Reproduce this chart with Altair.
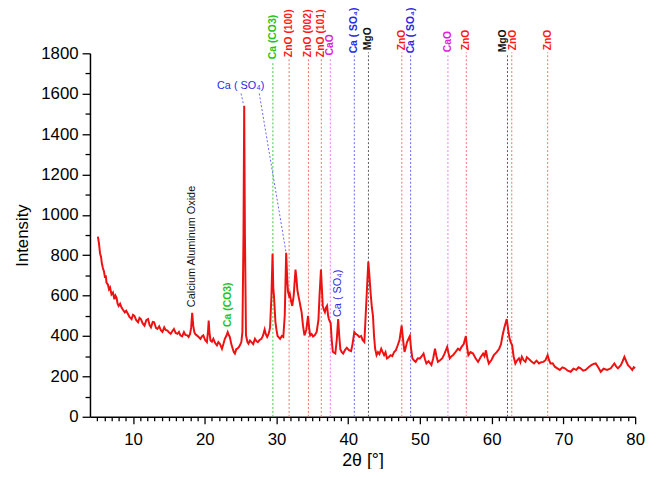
import altair as alt
import pandas as pd

# ---- XRD pattern ----
two_theta = [
    5.1, 5.25, 5.4, 5.55, 5.65, 5.8, 5.95, 6.1, 6.2, 6.3,
    6.5, 6.65, 6.8, 7.0, 7.2, 7.4, 7.55, 7.7, 7.85, 8.0,
    8.2, 8.4, 8.6, 8.85, 9.05, 9.3, 9.5, 9.8, 10.0, 10.2,
    10.45, 10.7, 10.9, 11.1, 11.35, 11.6, 11.85, 12.1, 12.3, 12.5,
    12.75, 12.95, 13.2, 13.4, 13.65, 13.9, 14.1, 14.35, 14.55, 14.8,
    15.0, 15.25, 15.5, 15.7, 15.95, 16.2, 16.4, 16.6, 16.85, 17.1,
    17.3, 17.55, 17.75, 17.95, 18.1, 18.25, 18.4, 18.55, 18.7, 18.9,
    19.15, 19.4, 19.6, 19.8, 20.05, 20.3, 20.45, 20.55, 20.65, 20.8,
    21.0, 21.2, 21.45, 21.7, 21.9, 22.1, 22.25, 22.4, 22.6, 22.8,
    23.0, 23.2, 23.35, 23.5, 23.7, 23.9, 24.05, 24.2, 24.4, 24.55,
    24.75, 24.9, 25.1, 25.25, 25.4, 25.5, 25.6, 25.75, 25.95, 26.1,
    26.3, 26.5, 26.75, 27.0, 27.2, 27.4, 27.65, 27.9, 28.1, 28.35,
    28.5, 28.7, 28.9, 29.1, 29.3, 29.45, 29.55, 29.65, 29.85, 30.0,
    30.15, 30.35, 30.5, 30.75, 30.95, 31.15, 31.35, 31.5, 31.6, 31.75,
    31.85, 32.05, 32.2, 32.4, 32.65, 32.8, 32.9, 33.05, 33.2, 33.35,
    33.5, 33.7, 33.9, 34.15, 34.4, 34.55, 34.7, 34.9, 35.1, 35.35,
    35.6, 35.85, 36.0, 36.2, 36.35, 36.45, 36.6, 36.75, 36.9, 37.05,
    37.2, 37.3, 37.45, 37.55, 37.7, 37.85, 38.0, 38.2, 38.4, 38.6,
    38.75, 38.9, 39.1, 39.3, 39.55, 39.8, 40.1, 40.4, 40.6, 40.85,
    41.05, 41.3, 41.55, 41.8, 42.0, 42.25, 42.5, 42.8, 42.95, 43.15,
    43.3, 43.45, 43.6, 43.75, 43.95, 44.15, 44.35, 44.6, 44.8, 45.0,
    45.2, 45.4, 45.65, 45.9, 46.15, 46.4, 46.65, 46.9, 47.15, 47.45,
    47.65, 47.85, 48.0, 48.2, 48.4, 48.6, 48.75, 48.95, 49.15, 49.4,
    49.7, 50.0, 50.25, 50.5, 50.7, 50.9, 51.2, 51.6, 51.85, 52.1,
    52.3, 52.5, 52.8, 53.1, 53.4, 53.8, 53.95, 54.15, 54.4, 54.6,
    54.95, 55.3, 55.55, 55.8, 56.1, 56.4, 56.55, 56.75, 57.05, 57.4,
    57.75, 58.1, 58.45, 58.8, 59.0, 59.2, 59.4, 59.6, 59.95, 60.3,
    60.7, 61.05, 61.3, 61.5, 61.75, 62.1, 62.3, 62.5, 62.65, 62.85,
    63.05, 63.3, 63.55, 63.8, 64.0, 64.2, 64.45, 64.7, 64.9, 65.1,
    65.5, 65.9, 66.25, 66.6, 66.9, 67.2, 67.5, 67.8, 68.0, 68.2,
    68.5, 68.8, 69.15, 69.5, 69.85, 70.2, 70.6, 71.0, 71.4, 71.8,
    72.1, 72.4, 72.75, 73.1, 73.5, 73.9, 74.2, 74.5, 74.85, 75.2,
    75.6, 76.1, 76.6, 77.1, 77.35, 77.6, 78.0, 78.25, 78.5, 78.75,
    79.0, 79.3, 79.6, 79.8, 80.0,
]
intensity = [
    892, 860, 810, 790, 761, 737, 720, 688, 700, 664,
    655, 631, 640, 606, 615, 582, 600, 590, 560, 549,
    560, 541, 530, 517, 525, 509, 495, 484, 505, 500,
    478, 468, 490, 484, 462, 451, 478, 484, 455, 443,
    470, 468, 440, 435, 448, 427, 420, 443, 430, 427,
    418, 411, 425, 435, 415, 411, 420, 403, 398, 419,
    405, 403, 395, 410, 440, 515, 450, 419, 408, 403,
    395, 386, 398, 403, 380, 370, 420, 476, 420, 378,
    372, 386, 365, 354, 370, 362, 350, 337, 360, 386,
    400, 419, 405, 395, 360, 337, 320, 313, 335, 337,
    345, 354, 370, 419, 900, 1540, 900, 403, 370, 362,
    378, 370, 360, 386, 375, 370, 380, 386, 400, 432,
    410, 395, 410, 440, 600, 807, 640, 598, 470, 430,
    400, 392, 386, 400, 395, 500, 812, 680, 620, 600,
    610, 570, 549, 600, 729, 680, 631, 600, 574, 545,
    518, 450, 403, 430, 500, 440, 403, 410, 398, 405,
    420, 480, 600, 729, 620, 549, 530, 518, 540, 549,
    500, 484, 470, 465, 380, 322, 318, 313, 380, 484,
    400, 335, 320, 313, 330, 342, 330, 325, 360, 420,
    410, 405, 395, 400, 380, 370, 550, 769, 700, 600,
    540, 500, 400, 337, 305, 320, 310, 337, 320, 305,
    320, 289, 295, 305, 300, 321, 330, 354, 380, 452,
    380, 321, 340, 370, 385, 400, 340, 289, 280, 272,
    290, 289, 300, 313, 285, 264, 275, 256, 290, 337,
    300, 272, 280, 289, 310, 346, 320, 289, 300, 305,
    320, 337, 330, 346, 360, 400, 350, 305, 320, 313,
    290, 272, 295, 313, 300, 329, 290, 264, 280, 305,
    320, 337, 360, 400, 440, 484, 430, 386, 370, 354,
    300, 264, 280, 289, 270, 297, 280, 272, 295, 289,
    275, 264, 278, 264, 270, 272, 280, 305, 280, 264,
    265, 248, 240, 232, 245, 240, 228, 223, 238, 232,
    245, 240, 228, 232, 245, 256, 262, 264, 245, 223,
    238, 232, 240, 264, 250, 240, 255, 275, 297, 275,
    256, 245, 232, 245, 240,
]

# ---- reference (phase) lines at the top ----
ref_pos = [29.5, 31.76, 34.45, 36.25, 37.5, 40.85, 42.82, 47.47, 48.7, 53.9, 56.46, 62.2, 62.8, 67.8]
ref_text_pos = [29.5, 31.76, 34.45, 36.25, 37.5, 40.85, 42.82, 47.47, 48.7, 53.9, 56.46, 61.6, 63.0, 67.8]
ref_label = ["Ca (CO3)", "ZnO (100)", "ZnO (002)", "ZnO (101)", "CaO", "Ca ( SO\u2084)", "MgO",
             "ZnO", "Ca ( SO\u2084)", "CaO", "ZnO", "MgO", "ZnO", "ZnO"]
ref_phase = ["CaCO3", "ZnO", "ZnO", "ZnO", "CaO", "CaSO4", "MgO",
             "ZnO", "CaSO4", "CaO", "ZnO", "MgO", "ZnO", "ZnO"]
ref_top = [1761, 1771, 1771, 1771, 1780, 1790, 1805, 1805, 1790, 1795, 1805, 1795, 1805, 1805]

# ---- in-plot annotations ----
ann_x = [18.25, 23.3, 38.6]
ann_y = [543, 445, 494]
ann_text = ["Calcium Aluminum Oxide", "Ca (CO3)", "Ca ( SO\u2084)"]
ann_phase = ["Other", "CaCO3", "CaSO4"]
ann_bold = [False, True, False]

lead_x = [25.06, 27.6]
lead_y = [1601, 1601]
lead_x2 = [25.4, 31.35]
lead_y2 = [1547, 810]
sulf_x = [25.0]
sulf_y = [1638]
sulf_text = ["Ca ( SO\u2084)"]

phases = ["ZnO", "CaCO3", "CaSO4", "CaO", "MgO", "Other"]
line_cols = ["#ff6a6a", "#3cc83c", "#6464ff", "#ee77ee", "#555555", "#000000"]
text_cols = ["#ff1a1a", "#22c422", "#2a2ae0", "#dd22dd", "#111111", "#111111"]

FONT = "Liberation Sans"
xs = alt.Scale(domain=[4, 80], nice=False, zero=False)
ys = alt.Scale(domain=[0, 1800], nice=False, zero=True)

spec = pd.DataFrame({"x": two_theta, "y": intensity})
refs = pd.DataFrame({"x": ref_pos, "tx": ref_text_pos, "label": ref_label, "phase": ref_phase,
                     "top": ref_top, "zero": [0] * len(ref_pos)})
anns = pd.DataFrame({"x": ann_x, "y": ann_y, "label": ann_text, "phase": ann_phase,
                     "bold": ann_bold})
leads = pd.DataFrame({"x": lead_x, "y": lead_y, "x2": lead_x2, "y2": lead_y2})
sulf = pd.DataFrame({"x": sulf_x, "y": sulf_y, "label": sulf_text})

x_axis = alt.Axis(
    values=list(range(5, 81)),
    labelExpr="datum.value % 10 === 0 ? datum.label : ''",
    format="d",
    tickSize={"condition": {"test": "datum.value % 10 === 0", "value": 7}, "value": 4},
    labelOverlap=False, labelFlush=False, grid=False,
    title="2\u03b8 [\u00b0]", titleFontSize=18, titlePadding=4, labelPadding=8,
)
y_axis = alt.Axis(
    values=list(range(0, 1801, 100)),
    labelExpr="datum.value % 200 === 0 ? datum.label : ''",
    format="d",
    tickSize={"condition": {"test": "datum.value % 200 === 0", "value": 8}, "value": 5},
    labelOverlap=False, labelFlush=False, grid=False,
    title="Intensity", titleFontSize=17, titlePadding=9, labelPadding=4,
)


def X(field):
    return alt.X(field, type="quantitative", scale=xs, axis=x_axis)


def Y(field):
    return alt.Y(field, type="quantitative", scale=ys, axis=y_axis)


line = alt.Chart(spec).mark_line(color="#ee1111", strokeWidth=2).encode(
    x=X("x"), y=Y("y"),
)

stroke_scale = alt.Scale(domain=phases, range=line_cols)
fill_scale = alt.Scale(domain=phases, range=text_cols)

ref_rules = alt.Chart(refs).mark_rule(strokeDash=[2, 2], strokeWidth=1).encode(
    x=X("x"), y=Y("zero"), y2="top:Q",
    stroke=alt.Stroke("phase:N", scale=stroke_scale, legend=None),
)

ref_text = alt.Chart(refs).mark_text(
    angle=270, align="left", baseline="middle", dx=2,
    font=FONT, fontSize=10.5, fontWeight="bold",
).encode(
    x=X("tx"), y=Y("top"),
    text="label:N",
    fill=alt.Fill("phase:N", scale=fill_scale, legend=None),
)


def ann_layer(bold):
    return alt.Chart(anns).transform_filter(
        "datum.bold" if bold else "!datum.bold"
    ).mark_text(
        angle=270, align="left", baseline="middle", font=FONT,
        fontSize=10.5 if bold else 11,
        fontWeight="bold" if bold else "normal",
    ).encode(
        x=X("x"), y=Y("y"),
        text="label:N",
        fill=alt.Fill("phase:N", scale=fill_scale, legend=None),
    )


lead_rules = alt.Chart(leads).mark_rule(strokeDash=[2, 2], strokeWidth=1, color="#6464ff").encode(
    x=X("x"), y=Y("y"), x2="x2:Q", y2="y2:Q",
)

sulf_text_layer = alt.Chart(sulf).mark_text(
    align="center", baseline="middle", font=FONT, fontSize=11, color="#2a2ae0",
).encode(
    x=X("x"), y=Y("y"), text="label:N",
)

chart = alt.layer(
    ref_rules, lead_rules, line, ref_text, ann_layer(False), ann_layer(True), sulf_text_layer
).properties(
    width=552, height=368,
    padding={"left": 83, "top": 43, "right": 13, "bottom": 50},
    autosize=alt.AutoSizeParams(type="none"),
    background="white",
).configure_view(
    stroke=None
).configure_axis(
    domainColor="black", domainWidth=1.5, tickColor="black", tickWidth=1.3,
    labelFont=FONT, labelFontSize=17, labelColor="black",
    titleFont=FONT, titleFontWeight="normal", titleColor="black",
)

chart.save("out.html", embed_options={"renderer": "svg", "actions": False})
